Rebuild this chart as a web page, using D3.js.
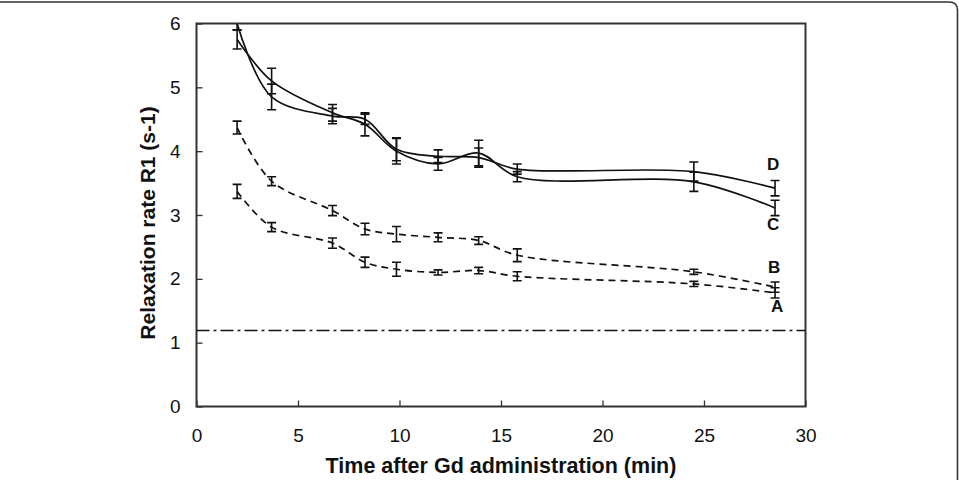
<!DOCTYPE html>
<html>
<head>
<meta charset="utf-8">
<script src="https://cdn.jsdelivr.net/npm/d3@7"></script>
<style>
  body { margin: 0; background: #fff; }
  text { font-family: Arial, "Liberation Sans", sans-serif; fill: #111; }
</style>
</head>
<body>
<div id="chart"></div>
<script>
  // time points (min)
  var times = [2, 3.7, 6.7, 8.3, 9.85, 11.9, 13.9, 15.8, 24.5, 28.5];

  // relaxation rate for each curve, with error bar half widths
  var seriesA = [3.37, 2.81, 2.56, 2.26, 2.15, 2.10, 2.13, 2.04, 1.92, 1.78];
  var errA = [0.11, 0.07, 0.08, 0.08, 0.11, 0.04, 0.05, 0.07, 0.04, 0.08];
  var seriesB = [4.37, 3.53, 3.07, 2.78, 2.70, 2.65, 2.60, 2.37, 2.11, 1.87];
  var errB = [0.10, 0.07, 0.08, 0.09, 0.12, 0.07, 0.06, 0.10, 0.04, 0.08];
  var seriesC = [5.75, 5.10, 4.60, 4.42, 4.00, 3.80, 3.97, 3.60, 3.52, 3.11];
  var errC = [0.15, 0.20, 0.13, 0.18, 0.20, 0.10, 0.20, 0.08, 0.15, 0.12];
  var seriesD = [6.00, 4.85, 4.55, 4.50, 4.03, 3.92, 3.90, 3.72, 3.68, 3.42];
  var errD = [0.10, 0.20, 0.12, 0.08, 0.18, 0.10, 0.15, 0.08, 0.15, 0.12];

  // baseline level before contrast
  var baseline = 1.19;

  // curve labels and where they sit (x in min, y in s-1)
  var labelNames = ["D", "C", "B", "A"];
  var labelX = [28.4, 28.4, 28.45, 28.6];
  var labelY = [3.80, 2.86, 2.19, 1.57];

  // tick values
  var xTicks = [0, 5, 10, 15, 20, 25, 30];
  var yTicks = [0, 1, 2, 3, 4, 5, 6];

  var width = 959;
  var height = 480;
  var plotLeft = 196.5, plotRight = 805.5, plotTop = 23.5, plotBottom = 406.5;

  var svg = d3.select("#chart").append("svg")
    .attr("width", width)
    .attr("height", height);

  // outer frame (top and right edges)
  svg.append("path")
    .attr("d", "M0,2 H949 Q957.5,2 957.5,10 V480")
    .attr("fill", "none")
    .attr("stroke", "#333")
    .attr("stroke-width", 1.6);

  // scales
  var x = d3.scaleLinear().domain([0, 30]).range([plotLeft, plotRight]);
  var y = d3.scaleLinear().domain([0, 6]).range([plotBottom, plotTop]);

  // clip everything to the plot box
  svg.append("clipPath").attr("id", "plotclip")
    .append("rect")
    .attr("x", plotLeft).attr("y", plotTop)
    .attr("width", plotRight - plotLeft).attr("height", plotBottom - plotTop);

  // axes with inward ticks
  var xAxis = svg.append("g")
    .attr("transform", "translate(0," + plotBottom + ")")
    .call(d3.axisBottom(x).tickValues(xTicks).tickFormat(d3.format("d"))
      .tickSizeInner(-6).tickSizeOuter(0).tickPadding(22));
  var yAxis = svg.append("g")
    .attr("transform", "translate(" + plotLeft + ",0)")
    .call(d3.axisLeft(y).tickValues(yTicks).tickFormat(d3.format("d"))
      .tickSizeInner(-6).tickSizeOuter(0).tickPadding(16));

  [xAxis, yAxis].forEach(function(g) {
    g.select(".domain").remove();
    g.selectAll(".tick line").attr("stroke", "#333").attr("stroke-width", 1.3);
    g.selectAll(".tick text")
      .style("font-size", "19px")
      .style("font-family", "Arial, 'Liberation Sans', sans-serif")
      .attr("fill", "#222");
  });

  // plot box
  svg.append("rect")
    .attr("x", plotLeft).attr("y", plotTop)
    .attr("width", plotRight - plotLeft).attr("height", plotBottom - plotTop)
    .attr("fill", "none")
    .attr("stroke", "#333")
    .attr("stroke-width", 2);

  // axis titles
  svg.append("text")
    .attr("x", (plotLeft + plotRight) / 2)
    .attr("y", 473)
    .attr("text-anchor", "middle")
    .style("font-size", "21.5px")
    .style("font-weight", "bold")
    .text("Time after Gd administration (min)");

  svg.append("text")
    .attr("transform", "translate(155,223) rotate(-90)")
    .attr("text-anchor", "middle")
    .style("font-size", "21px")
    .style("font-weight", "bold")
    .text("Relaxation rate R1 (s-1)");

  var plot = svg.append("g").attr("clip-path", "url(#plotclip)");

  // dash-dot baseline
  plot.append("line")
    .attr("x1", x(0)).attr("x2", x(30))
    .attr("y1", y(baseline)).attr("y2", y(baseline))
    .attr("stroke", "#111")
    .attr("stroke-width", 1.5)
    .attr("stroke-dasharray", "13,4,3,4");

  // smoothed lines
  var line = d3.line()
    .x(function(d) { return x(d[0]); })
    .y(function(d) { return y(d[1]); })
    .curve(d3.curveCatmullRom.alpha(0.5));

  var allSeries = [
    { values: seriesA, err: errA, dash: "7,5" },
    { values: seriesB, err: errB, dash: "7,5" },
    { values: seriesC, err: errC, dash: null },
    { values: seriesD, err: errD, dash: null }
  ];

  allSeries.forEach(function(s) {
    var pts = times.map(function(t, i) { return [t, s.values[i], s.err[i]]; });

    plot.append("path")
      .datum(pts)
      .attr("d", line)
      .attr("fill", "none")
      .attr("stroke", "#111")
      .attr("stroke-width", 1.7)
      .attr("stroke-dasharray", s.dash);

    // error bars
    var bars = plot.append("g")
      .attr("stroke", "#111")
      .attr("stroke-width", 1.6)
      .selectAll("g")
      .data(pts)
      .join("g");

    bars.append("line")
      .attr("x1", function(d) { return x(d[0]); })
      .attr("x2", function(d) { return x(d[0]); })
      .attr("y1", function(d) { return y(d[1] + d[2]); })
      .attr("y2", function(d) { return y(d[1] - d[2]); });

    [1, -1].forEach(function(sign) {
      bars.append("line")
        .attr("x1", function(d) { return x(d[0]) - 4.5; })
        .attr("x2", function(d) { return x(d[0]) + 4.5; })
        .attr("y1", function(d) { return y(d[1] + sign * d[2]); })
        .attr("y2", function(d) { return y(d[1] + sign * d[2]); });
    });
  });

  // curve labels
  svg.selectAll(".curve-label")
    .data(labelNames)
    .join("text")
    .attr("class", "curve-label")
    .attr("x", function(d, i) { return x(labelX[i]); })
    .attr("y", function(d, i) { return y(labelY[i]); })
    .attr("dy", "0.35em")
    .attr("text-anchor", "middle")
    .style("font-size", "17px")
    .style("font-weight", "bold")
    .text(function(d) { return d; });
</script>
</body>
</html>
